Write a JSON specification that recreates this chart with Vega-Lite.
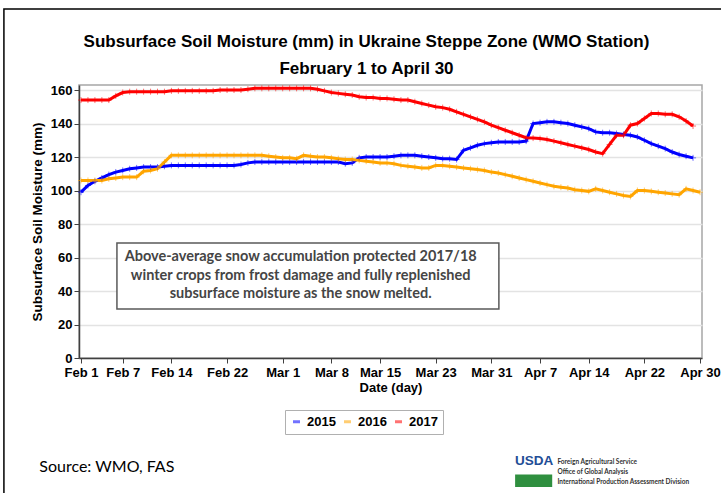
{
  "$schema": "https://vega.github.io/schema/vega-lite/v6.json",
  "width": 623,
  "height": 273,
  "autosize": {"type": "none"},
  "padding": {"left": 79, "top": 85, "right": 19, "bottom": 135},
  "background": "white",
  "config": {"view": {"stroke": "#a6a6a6", "strokeWidth": 1.5}, "font": "Liberation Sans"},
  "title": {
    "text": "Subsurface Soil Moisture (mm) in Ukraine Steppe Zone (WMO Station)",
    "subtitle": "February 1 to April 30",
    "font": "Liberation Sans", "subtitleFont": "Liberation Sans",
    "fontSize": 17, "subtitleFontSize": 17,
    "fontWeight": "bold", "subtitleFontWeight": "bold",
    "color": "black", "subtitleColor": "black",
    "anchor": "middle", "dx": -24, "offset": -70, "subtitlePadding": 10
  },
  "encoding": {
    "x": {
      "field": "date", "type": "temporal",
      "scale": {"type": "utc", "domain": [{"year": 2016, "month": 2, "date": 1, "utc": true}, {"year": 2016, "month": 4, "date": 30, "utc": true}], "padding": 2},
      "axis": {
        "values": [
          {"year": 2016, "month": 2, "date": 1, "utc": true},
          {"year": 2016, "month": 2, "date": 7, "utc": true},
          {"year": 2016, "month": 2, "date": 14, "utc": true},
          {"year": 2016, "month": 2, "date": 22, "utc": true},
          {"year": 2016, "month": 3, "date": 1, "utc": true},
          {"year": 2016, "month": 3, "date": 8, "utc": true},
          {"year": 2016, "month": 3, "date": 15, "utc": true},
          {"year": 2016, "month": 3, "date": 23, "utc": true},
          {"year": 2016, "month": 3, "date": 31, "utc": true},
          {"year": 2016, "month": 4, "date": 7, "utc": true},
          {"year": 2016, "month": 4, "date": 14, "utc": true},
          {"year": 2016, "month": 4, "date": 22, "utc": true},
          {"year": 2016, "month": 4, "date": 30, "utc": true}
        ],
        "labelExpr": "utcFormat(datum.value, '%b %-d')",
        "grid": false, "tickSize": 5, "tickColor": "#404040", "domainColor": "#404040", "domainWidth": 1.5,
        "labelFontSize": 13, "labelFontWeight": "bold", "labelColor": "black", "labelPadding": 3,
        "labelFlush": false, "labelOverlap": false,
        "title": "Date (day)", "titleFontSize": 13, "titleFontWeight": "bold", "titleColor": "black", "titlePadding": 2
      }
    },
    "y": {
      "field": "mm", "type": "quantitative",
      "scale": {"domain": [0, 163], "nice": false},
      "axis": {
        "values": [0, 20, 40, 60, 80, 100, 120, 140, 160],
        "grid": true, "gridColor": "#e3e3e3", "gridWidth": 1.5,
        "tickSize": 5, "tickColor": "#404040", "domainColor": "#404040", "domainWidth": 1.5,
        "labelFontSize": 13, "labelFontWeight": "bold", "labelColor": "black", "labelPadding": 2,
        "title": "Subsurface Soil Moisture (mm)", "titleFontSize": 13.5, "titleFontWeight": "bold", "titleColor": "black", "titlePadding": 6
      }
    }
  },
  "layer": [
    {
      "data": {"values": [{"date": "2016-01-20T22:00:00Z", "date2": "2016-05-25T00:00:00Z", "mm": 208.4, "mm2": -160}]},
      "mark": {"type": "rect", "fill": null, "fillOpacity": 0, "stroke": "black", "strokeWidth": 1.5},
      "encoding": {"x2": {"field": "date2"}, "y2": {"field": "mm2"}}
    },
    {
      "data": {"values": [{"date": "2016-02-06T04:00:00Z", "date2": "2016-04-01T02:00:00Z", "mm": 68.7, "mm2": 29.3}]},
      "mark": {"type": "rect", "fill": "white", "stroke": "#595959", "strokeWidth": 1.5},
      "encoding": {"x2": {"field": "date2"}, "y2": {"field": "mm2"}}
    },
    {
      "data": {"values": [
        {"date": "2016-03-03T14:00:00Z", "mm": 60.5, "label": "Above-average snow accumulation protected 2017/18"},
        {"date": "2016-03-03T14:00:00Z", "mm": 49.1, "label": "winter crops from frost damage and fully replenished"},
        {"date": "2016-03-03T14:00:00Z", "mm": 38.0, "label": "subsurface moisture as the snow melted."}
      ]},
      "mark": {"type": "text", "font": "Lato", "fontWeight": "bold", "fontSize": 14.5, "color": "#454545", "align": "center", "baseline": "middle"},
      "encoding": {"text": {"field": "label"}}
    },
    {
      "data": {"values": [
        {"date":"2016-02-01","year":"2015","mm":99},{"date":"2016-02-02","year":"2015","mm":103},{"date":"2016-02-03","year":"2015","mm":105.5},{"date":"2016-02-04","year":"2015","mm":107.5},{"date":"2016-02-05","year":"2015","mm":109.5},{"date":"2016-02-06","year":"2015","mm":111},{"date":"2016-02-07","year":"2015","mm":112},{"date":"2016-02-08","year":"2015","mm":113},{"date":"2016-02-09","year":"2015","mm":113.5},{"date":"2016-02-10","year":"2015","mm":114},{"date":"2016-02-11","year":"2015","mm":114},{"date":"2016-02-12","year":"2015","mm":114},{"date":"2016-02-13","year":"2015","mm":114.5},{"date":"2016-02-14","year":"2015","mm":115},{"date":"2016-02-15","year":"2015","mm":115},{"date":"2016-02-16","year":"2015","mm":115},{"date":"2016-02-17","year":"2015","mm":115},{"date":"2016-02-18","year":"2015","mm":115},{"date":"2016-02-19","year":"2015","mm":115},{"date":"2016-02-20","year":"2015","mm":115},{"date":"2016-02-21","year":"2015","mm":115},{"date":"2016-02-22","year":"2015","mm":115},{"date":"2016-02-23","year":"2015","mm":115},{"date":"2016-02-24","year":"2015","mm":115.5},{"date":"2016-02-25","year":"2015","mm":116.5},{"date":"2016-02-26","year":"2015","mm":117},{"date":"2016-02-27","year":"2015","mm":117},{"date":"2016-02-28","year":"2015","mm":117},{"date":"2016-02-29","year":"2015","mm":117},{"date":"2016-03-01","year":"2015","mm":117},{"date":"2016-03-02","year":"2015","mm":117},{"date":"2016-03-03","year":"2015","mm":117},{"date":"2016-03-04","year":"2015","mm":117},{"date":"2016-03-05","year":"2015","mm":117},{"date":"2016-03-06","year":"2015","mm":117},{"date":"2016-03-07","year":"2015","mm":117},{"date":"2016-03-08","year":"2015","mm":117},{"date":"2016-03-09","year":"2015","mm":117},{"date":"2016-03-10","year":"2015","mm":116},{"date":"2016-03-11","year":"2015","mm":116.5},{"date":"2016-03-12","year":"2015","mm":119.5},{"date":"2016-03-13","year":"2015","mm":120},{"date":"2016-03-14","year":"2015","mm":120},{"date":"2016-03-15","year":"2015","mm":120},{"date":"2016-03-16","year":"2015","mm":120},{"date":"2016-03-17","year":"2015","mm":120.5},{"date":"2016-03-18","year":"2015","mm":121},{"date":"2016-03-19","year":"2015","mm":121},{"date":"2016-03-20","year":"2015","mm":121},{"date":"2016-03-21","year":"2015","mm":120.5},{"date":"2016-03-22","year":"2015","mm":120},{"date":"2016-03-23","year":"2015","mm":119.5},{"date":"2016-03-24","year":"2015","mm":119},{"date":"2016-03-25","year":"2015","mm":119},{"date":"2016-03-26","year":"2015","mm":118.5},{"date":"2016-03-27","year":"2015","mm":124},{"date":"2016-03-28","year":"2015","mm":125.5},{"date":"2016-03-29","year":"2015","mm":127},{"date":"2016-03-30","year":"2015","mm":128},{"date":"2016-03-31","year":"2015","mm":128.5},{"date":"2016-04-01","year":"2015","mm":129},{"date":"2016-04-02","year":"2015","mm":129},{"date":"2016-04-03","year":"2015","mm":129},{"date":"2016-04-04","year":"2015","mm":129},{"date":"2016-04-05","year":"2015","mm":129.5},{"date":"2016-04-06","year":"2015","mm":140},{"date":"2016-04-07","year":"2015","mm":140.5},{"date":"2016-04-08","year":"2015","mm":141},{"date":"2016-04-09","year":"2015","mm":141},{"date":"2016-04-10","year":"2015","mm":140.5},{"date":"2016-04-11","year":"2015","mm":140},{"date":"2016-04-12","year":"2015","mm":139},{"date":"2016-04-13","year":"2015","mm":138},{"date":"2016-04-14","year":"2015","mm":137},{"date":"2016-04-15","year":"2015","mm":135},{"date":"2016-04-16","year":"2015","mm":134.5},{"date":"2016-04-17","year":"2015","mm":134.5},{"date":"2016-04-18","year":"2015","mm":134},{"date":"2016-04-19","year":"2015","mm":133.5},{"date":"2016-04-20","year":"2015","mm":133},{"date":"2016-04-21","year":"2015","mm":132},{"date":"2016-04-22","year":"2015","mm":130},{"date":"2016-04-23","year":"2015","mm":128},{"date":"2016-04-24","year":"2015","mm":126.5},{"date":"2016-04-25","year":"2015","mm":125},{"date":"2016-04-26","year":"2015","mm":123},{"date":"2016-04-27","year":"2015","mm":121.5},{"date":"2016-04-28","year":"2015","mm":120.5},{"date":"2016-04-29","year":"2015","mm":119.5},
        {"date":"2016-02-01","year":"2016","mm":106},{"date":"2016-02-02","year":"2016","mm":106},{"date":"2016-02-03","year":"2016","mm":106},{"date":"2016-02-04","year":"2016","mm":106},{"date":"2016-02-05","year":"2016","mm":107},{"date":"2016-02-06","year":"2016","mm":107.5},{"date":"2016-02-07","year":"2016","mm":108},{"date":"2016-02-08","year":"2016","mm":108},{"date":"2016-02-09","year":"2016","mm":108},{"date":"2016-02-10","year":"2016","mm":111.5},{"date":"2016-02-11","year":"2016","mm":112},{"date":"2016-02-12","year":"2016","mm":113},{"date":"2016-02-13","year":"2016","mm":117},{"date":"2016-02-14","year":"2016","mm":121},{"date":"2016-02-15","year":"2016","mm":121},{"date":"2016-02-16","year":"2016","mm":121},{"date":"2016-02-17","year":"2016","mm":121},{"date":"2016-02-18","year":"2016","mm":121},{"date":"2016-02-19","year":"2016","mm":121},{"date":"2016-02-20","year":"2016","mm":121},{"date":"2016-02-21","year":"2016","mm":121},{"date":"2016-02-22","year":"2016","mm":121},{"date":"2016-02-23","year":"2016","mm":121},{"date":"2016-02-24","year":"2016","mm":121},{"date":"2016-02-25","year":"2016","mm":121},{"date":"2016-02-26","year":"2016","mm":121},{"date":"2016-02-27","year":"2016","mm":121},{"date":"2016-02-28","year":"2016","mm":120.5},{"date":"2016-02-29","year":"2016","mm":120},{"date":"2016-03-01","year":"2016","mm":119.5},{"date":"2016-03-02","year":"2016","mm":119.5},{"date":"2016-03-03","year":"2016","mm":119},{"date":"2016-03-04","year":"2016","mm":121},{"date":"2016-03-05","year":"2016","mm":120.5},{"date":"2016-03-06","year":"2016","mm":120},{"date":"2016-03-07","year":"2016","mm":120},{"date":"2016-03-08","year":"2016","mm":119.5},{"date":"2016-03-09","year":"2016","mm":119},{"date":"2016-03-10","year":"2016","mm":118.5},{"date":"2016-03-11","year":"2016","mm":118.5},{"date":"2016-03-12","year":"2016","mm":118},{"date":"2016-03-13","year":"2016","mm":117.5},{"date":"2016-03-14","year":"2016","mm":117},{"date":"2016-03-15","year":"2016","mm":116.5},{"date":"2016-03-16","year":"2016","mm":116.5},{"date":"2016-03-17","year":"2016","mm":116},{"date":"2016-03-18","year":"2016","mm":115},{"date":"2016-03-19","year":"2016","mm":114.5},{"date":"2016-03-20","year":"2016","mm":114},{"date":"2016-03-21","year":"2016","mm":113.5},{"date":"2016-03-22","year":"2016","mm":113.5},{"date":"2016-03-23","year":"2016","mm":115},{"date":"2016-03-24","year":"2016","mm":115},{"date":"2016-03-25","year":"2016","mm":114.5},{"date":"2016-03-26","year":"2016","mm":114},{"date":"2016-03-27","year":"2016","mm":113.5},{"date":"2016-03-28","year":"2016","mm":113},{"date":"2016-03-29","year":"2016","mm":112.5},{"date":"2016-03-30","year":"2016","mm":112},{"date":"2016-03-31","year":"2016","mm":111},{"date":"2016-04-01","year":"2016","mm":110.5},{"date":"2016-04-02","year":"2016","mm":109.5},{"date":"2016-04-03","year":"2016","mm":108.5},{"date":"2016-04-04","year":"2016","mm":107.5},{"date":"2016-04-05","year":"2016","mm":106.5},{"date":"2016-04-06","year":"2016","mm":105.5},{"date":"2016-04-07","year":"2016","mm":104.5},{"date":"2016-04-08","year":"2016","mm":103.5},{"date":"2016-04-09","year":"2016","mm":102.5},{"date":"2016-04-10","year":"2016","mm":102},{"date":"2016-04-11","year":"2016","mm":101.5},{"date":"2016-04-12","year":"2016","mm":100.5},{"date":"2016-04-13","year":"2016","mm":100},{"date":"2016-04-14","year":"2016","mm":99.5},{"date":"2016-04-15","year":"2016","mm":101},{"date":"2016-04-16","year":"2016","mm":100},{"date":"2016-04-17","year":"2016","mm":99},{"date":"2016-04-18","year":"2016","mm":98},{"date":"2016-04-19","year":"2016","mm":97},{"date":"2016-04-20","year":"2016","mm":96.5},{"date":"2016-04-21","year":"2016","mm":100},{"date":"2016-04-22","year":"2016","mm":100},{"date":"2016-04-23","year":"2016","mm":99.5},{"date":"2016-04-24","year":"2016","mm":99},{"date":"2016-04-25","year":"2016","mm":98.5},{"date":"2016-04-26","year":"2016","mm":98},{"date":"2016-04-27","year":"2016","mm":97.5},{"date":"2016-04-28","year":"2016","mm":101},{"date":"2016-04-29","year":"2016","mm":100},{"date":"2016-04-30","year":"2016","mm":99},
        {"date":"2016-02-01","year":"2017","mm":154},{"date":"2016-02-02","year":"2017","mm":154},{"date":"2016-02-03","year":"2017","mm":154},{"date":"2016-02-04","year":"2017","mm":154},{"date":"2016-02-05","year":"2017","mm":154},{"date":"2016-02-06","year":"2017","mm":156.5},{"date":"2016-02-07","year":"2017","mm":158.5},{"date":"2016-02-08","year":"2017","mm":159},{"date":"2016-02-09","year":"2017","mm":159},{"date":"2016-02-10","year":"2017","mm":159},{"date":"2016-02-11","year":"2017","mm":159},{"date":"2016-02-12","year":"2017","mm":159},{"date":"2016-02-13","year":"2017","mm":159},{"date":"2016-02-14","year":"2017","mm":159.5},{"date":"2016-02-15","year":"2017","mm":159.5},{"date":"2016-02-16","year":"2017","mm":159.5},{"date":"2016-02-17","year":"2017","mm":159.5},{"date":"2016-02-18","year":"2017","mm":159.5},{"date":"2016-02-19","year":"2017","mm":159.5},{"date":"2016-02-20","year":"2017","mm":159.5},{"date":"2016-02-21","year":"2017","mm":160},{"date":"2016-02-22","year":"2017","mm":160},{"date":"2016-02-23","year":"2017","mm":160},{"date":"2016-02-24","year":"2017","mm":160},{"date":"2016-02-25","year":"2017","mm":160.5},{"date":"2016-02-26","year":"2017","mm":161},{"date":"2016-02-27","year":"2017","mm":161},{"date":"2016-02-28","year":"2017","mm":161},{"date":"2016-02-29","year":"2017","mm":161},{"date":"2016-03-01","year":"2017","mm":161},{"date":"2016-03-02","year":"2017","mm":161},{"date":"2016-03-03","year":"2017","mm":161},{"date":"2016-03-04","year":"2017","mm":161},{"date":"2016-03-05","year":"2017","mm":161},{"date":"2016-03-06","year":"2017","mm":160.5},{"date":"2016-03-07","year":"2017","mm":159.5},{"date":"2016-03-08","year":"2017","mm":158.5},{"date":"2016-03-09","year":"2017","mm":158},{"date":"2016-03-10","year":"2017","mm":157.5},{"date":"2016-03-11","year":"2017","mm":157},{"date":"2016-03-12","year":"2017","mm":156},{"date":"2016-03-13","year":"2017","mm":155.5},{"date":"2016-03-14","year":"2017","mm":155.5},{"date":"2016-03-15","year":"2017","mm":155},{"date":"2016-03-16","year":"2017","mm":155},{"date":"2016-03-17","year":"2017","mm":154.5},{"date":"2016-03-18","year":"2017","mm":154},{"date":"2016-03-19","year":"2017","mm":154},{"date":"2016-03-20","year":"2017","mm":153},{"date":"2016-03-21","year":"2017","mm":152},{"date":"2016-03-22","year":"2017","mm":151},{"date":"2016-03-23","year":"2017","mm":150},{"date":"2016-03-24","year":"2017","mm":149.5},{"date":"2016-03-25","year":"2017","mm":148.5},{"date":"2016-03-26","year":"2017","mm":147},{"date":"2016-03-27","year":"2017","mm":145.5},{"date":"2016-03-28","year":"2017","mm":144},{"date":"2016-03-29","year":"2017","mm":142.5},{"date":"2016-03-30","year":"2017","mm":141},{"date":"2016-03-31","year":"2017","mm":139},{"date":"2016-04-01","year":"2017","mm":137.5},{"date":"2016-04-02","year":"2017","mm":136},{"date":"2016-04-03","year":"2017","mm":134.5},{"date":"2016-04-04","year":"2017","mm":133},{"date":"2016-04-05","year":"2017","mm":131.5},{"date":"2016-04-06","year":"2017","mm":131.3},{"date":"2016-04-07","year":"2017","mm":131},{"date":"2016-04-08","year":"2017","mm":130.5},{"date":"2016-04-09","year":"2017","mm":129.5},{"date":"2016-04-10","year":"2017","mm":128.5},{"date":"2016-04-11","year":"2017","mm":127.5},{"date":"2016-04-12","year":"2017","mm":126.5},{"date":"2016-04-13","year":"2017","mm":125.5},{"date":"2016-04-14","year":"2017","mm":124.5},{"date":"2016-04-15","year":"2017","mm":123},{"date":"2016-04-16","year":"2017","mm":122},{"date":"2016-04-17","year":"2017","mm":127.5},{"date":"2016-04-18","year":"2017","mm":133},{"date":"2016-04-19","year":"2017","mm":133},{"date":"2016-04-20","year":"2017","mm":139},{"date":"2016-04-21","year":"2017","mm":140},{"date":"2016-04-22","year":"2017","mm":143},{"date":"2016-04-23","year":"2017","mm":146},{"date":"2016-04-24","year":"2017","mm":146},{"date":"2016-04-25","year":"2017","mm":145.5},{"date":"2016-04-26","year":"2017","mm":145.5},{"date":"2016-04-27","year":"2017","mm":144},{"date":"2016-04-28","year":"2017","mm":141.5},{"date":"2016-04-29","year":"2017","mm":138.5}
      ]},
      "mark": {"type": "line", "strokeWidth": 3, "point": {"shape": "M-1,0H1M0,-1V1", "filled": false, "size": 36, "strokeWidth": 1, "opacity": 0.55}},
      "encoding": {
        "color": {
          "field": "year", "type": "nominal",
          "scale": {"domain": ["2015", "2016", "2017"], "range": ["#0000ff", "#ffa500", "#ff0000"]},
          "legend": {
            "orient": "none", "legendX": 206, "legendY": 325, "direction": "horizontal", "columns": 3,
            "title": null, "symbolType": "stroke", "symbolStrokeWidth": 3, "symbolSize": 49,
            "labelFontSize": 13, "labelFontWeight": "bold", "labelColor": "black", "labelOffset": 4,
            "columnPadding": 2, "strokeColor": "#b0b0b0", "padding": 5, "fillColor": "white"
          }
        }
      }
    },
    {
      "data": {"values": [{"date": "2016-01-26T00:00:00Z", "mm": -65, "label": "Source: WMO, FAS"}]},
      "mark": {"type": "text", "font": "Lato", "fontSize": 16, "color": "black", "align": "left", "baseline": "middle"},
      "encoding": {"text": {"field": "label"}}
    },
    {
      "data": {"values": [{"date": "2016-04-03T10:00:00Z", "mm": -61.5, "label": "USDA"}]},
      "mark": {"type": "text", "font": "Liberation Sans", "fontWeight": "bold", "fontSize": 13.5, "color": "#1f4e96", "align": "left", "baseline": "middle"},
      "encoding": {"text": {"field": "label"}}
    },
    {
      "data": {"values": [{"date": "2016-04-03T10:00:00Z", "date2": "2016-04-08T18:00:00Z", "mm": -69.5, "mm2": -77}]},
      "mark": {"type": "rect", "fill": "#2f8f3f"},
      "encoding": {"x2": {"field": "date2"}, "y2": {"field": "mm2"}}
    },
    {
      "data": {"values": [
        {"date": "2016-04-09T12:00:00Z", "mm": -62, "label": "Foreign Agricultural Service"},
        {"date": "2016-04-09T12:00:00Z", "mm": -68, "label": "Office of Global Analysis"},
        {"date": "2016-04-09T12:00:00Z", "mm": -74, "label": "International Production Assessment Division"}
      ]},
      "mark": {"type": "text", "font": "Lato", "fontWeight": "bold", "fontSize": 6.5, "color": "#333333", "align": "left", "baseline": "middle"},
      "encoding": {"text": {"field": "label"}}
    }
  ]
}
